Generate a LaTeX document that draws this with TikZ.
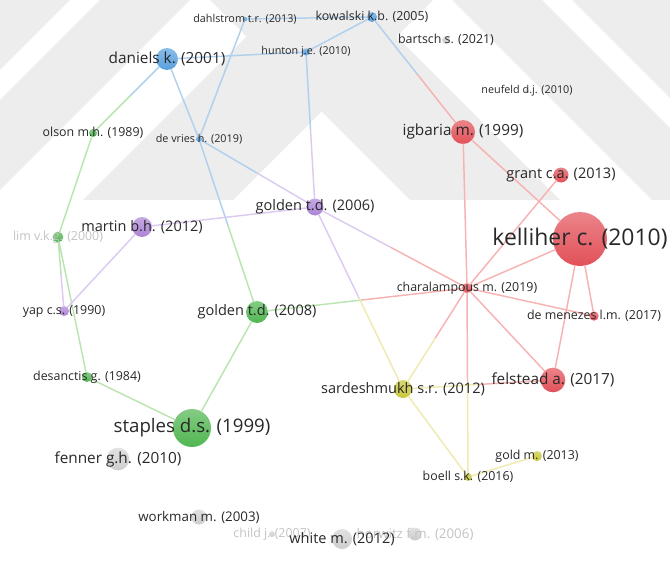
\documentclass[tikz,border=0pt]{standalone}
\usepackage{fontspec}
\setmainfont{Open Sans}
\usetikzlibrary{calc}
\definecolor{NetInk}{RGB}{40,40,40}
\definecolor{NetFaint}{RGB}{195,195,195}
\definecolor{NetMark}{RGB}{237,237,237}
\definecolor{RedNode}{RGB}{226,80,88}
\definecolor{BlueNode}{RGB}{88,160,222}
\definecolor{GreenNode}{RGB}{80,182,80}
\definecolor{PurpleNode}{RGB}{172,132,214}
\definecolor{YellowNode}{RGB}{200,200,60}
\definecolor{GrayNode}{RGB}{205,205,205}
\definecolor{RedLink}{RGB}{247,178,178}
\definecolor{BlueLink}{RGB}{176,208,238}
\definecolor{GreenLink}{RGB}{186,229,176}
\definecolor{PurpleLink}{RGB}{220,202,241}
\definecolor{YellowLink}{RGB}{239,234,176}
\tikzset{
    net/diagram/.style={
        x=0.75pt, y=-0.75pt,
        line cap=round,
        line join=round
    },
    net/mark/.style={fill=NetMark, draw=none},
    net/link/.style={line width=1.1pt},
    net/dot/.style={circle, draw=none, inner sep=0pt, outer sep=0pt},
    net/red/.style={net/dot, top color=RedNode!70!white, bottom color=RedNode},
    net/blue/.style={net/dot, top color=BlueNode!70!white, bottom color=BlueNode},
    net/green/.style={net/dot, top color=GreenNode!70!white, bottom color=GreenNode},
    net/purple/.style={net/dot, top color=PurpleNode!70!white, bottom color=PurpleNode},
    net/yellow/.style={net/dot, top color=YellowNode!70!white, bottom color=YellowNode},
    net/gray/.style={net/dot, top color=GrayNode!60!white, bottom color=GrayNode},
    net/label/.style={text=NetInk, inner sep=0pt, outer sep=0pt, anchor=center},
    net/faint/.style={text=NetFaint},
    net/t1/.style={font=\fontsize{17.2}{20}\selectfont},
    net/t2/.style={font=\fontsize{14}{17}\selectfont},
    net/t3/.style={font=\fontsize{11.5}{14}\selectfont},
    net/t4/.style={font=\fontsize{10.9}{13}\selectfont},
    net/t5/.style={font=\fontsize{10}{12}\selectfont},
    net/t6/.style={font=\fontsize{9.3}{11}\selectfont},
    net/t7/.style={font=\fontsize{8.1}{10}\selectfont}
}

\begin{document}
\begin{tikzpicture}[net/diagram]
    \useasboundingbox (0,0) rectangle (670,574);

    % watermark stripes behind the map
    \begin{scope}
        \clip (0,0) rectangle (670,200);
        \fill[net/mark] (0,0) -- (70,0) -- (0,70) -- cycle;
        \fill[net/mark] (100,0) -- (190,0) -- (0,190) -- (0,100) -- cycle;
        \fill[net/mark] (283,0) -- (433,0) -- (233,200) -- (83,200) -- cycle;
        \fill[net/mark] (210,0) -- (360,0) -- (560,200) -- (410,200) -- cycle;
        \fill[net/mark] (452,0) -- (542,0) -- (742,200) -- (652,200) -- cycle;
        \fill[net/mark] (572,0) -- (670,0) -- (670,98) -- cycle;
    \end{scope}

    % nodes (circles)
    \node[net/blue, minimum size=16.5pt] (daniels) at (167,59) {};
    \node[net/blue, minimum size=3.5pt] (dahlstrom) at (245,19) {};
    \node[net/blue, minimum size=7.5pt] (kowalski) at (372,17) {};
    \node[net/blue, minimum size=5.5pt] (hunton) at (306,52) {};
    \node[net/blue, minimum size=4.5pt] (devries) at (199,139) {};
    \node[net/gray, minimum size=6pt] (bartsch) at (446,40) {};
    \node[net/gray, minimum size=3pt] (neufeld) at (527,91) {};
    \node[net/green, minimum size=6pt] (olson) at (93,133) {};
    \node[net/green, minimum size=8pt] (lim) at (58,237) {};
    \node[net/green, minimum size=7.5pt] (desanctis) at (87,377) {};
    \node[net/green, minimum size=16.5pt] (golden08) at (257,312) {};
    \node[net/green, minimum size=28.5pt] (staples) at (192,428) {};
    \node[net/purple, minimum size=12.75pt] (golden06) at (315,207) {};
    \node[net/purple, minimum size=15pt] (martin) at (142,227) {};
    \node[net/purple, minimum size=7.5pt] (yap) at (64,311) {};
    \node[net/red, minimum size=18pt] (igbaria) at (463,132) {};
    \node[net/red, minimum size=11.25pt] (grant) at (561,175) {};
    \node[net/red, minimum size=40.5pt] (kelliher) at (580,239) {};
    \node[net/red, minimum size=7.5pt] (charalampous) at (467,288) {};
    \node[net/red, minimum size=7pt] (demenezes) at (594,316) {};
    \node[net/red, minimum size=18.5pt] (felstead) at (553,380) {};
    \node[net/yellow, minimum size=13.5pt] (sardeshmukh) at (403,389) {};
    \node[net/yellow, minimum size=7.5pt] (gold) at (537,456) {};
    \node[net/yellow, minimum size=6pt] (boell) at (468,477) {};
    \node[net/gray, minimum size=17pt] (fenner) at (118,459) {};
    \node[net/gray, minimum size=11.25pt] (workman) at (199,517) {};
    \node[net/gray, minimum size=4.5pt] (child) at (272,534) {};
    \node[net/gray, minimum size=15pt] (white) at (342,539) {};
    \node[net/gray, minimum size=9.75pt] (horwitz) at (415,534) {};

    % links, one colour per half
    \draw[net/link, draw=BlueLink]
        (daniels) -- (hunton) (daniels) -- (devries)
        (dahlstrom) -- (kowalski) (dahlstrom) -- (devries)
        (hunton) -- (kowalski)
        (daniels) -- ($(daniels)!.5!(olson)$)
        (devries) -- ($(devries)!.5!(golden08)$)
        (hunton) -- ($(hunton)!.5!(golden06)$)
        (devries) -- ($(devries)!.5!(golden06)$)
        (kowalski) -- ($(kowalski)!.5!(igbaria)$);
    \draw[net/link, draw=GreenLink]
        (olson) -- (lim) (lim) -- (desanctis)
        (desanctis) -- (staples) (staples) -- (golden08)
        (olson) -- ($(olson)!.5!(daniels)$)
        (golden08) -- ($(golden08)!.5!(devries)$)
        (lim) -- ($(lim)!.5!(yap)$)
        (golden08) -- ($(golden08)!.5!(charalampous)$);
    \draw[net/link, draw=PurpleLink]
        (martin) -- (golden06) (martin) -- (yap)
        (yap) -- ($(yap)!.5!(lim)$)
        (golden06) -- ($(golden06)!.5!(hunton)$)
        (golden06) -- ($(golden06)!.5!(devries)$)
        (golden06) -- ($(golden06)!.5!(charalampous)$)
        (golden06) -- ($(golden06)!.5!(sardeshmukh)$);
    \draw[net/link, draw=RedLink]
        (igbaria) -- (charalampous) (igbaria) -- (kelliher)
        (grant) -- (charalampous) (kelliher) -- (charalampous)
        (kelliher) -- (demenezes) (kelliher) -- (felstead)
        (charalampous) -- (demenezes) (charalampous) -- (felstead)
        (igbaria) -- ($(igbaria)!.5!(kowalski)$)
        (charalampous) -- ($(charalampous)!.5!(golden08)$)
        (charalampous) -- ($(charalampous)!.5!(golden06)$)
        (charalampous) -- ($(charalampous)!.5!(sardeshmukh)$)
        (charalampous) -- ($(charalampous)!.5!(boell)$)
        (felstead) -- ($(felstead)!.5!(sardeshmukh)$);
    \draw[net/link, draw=YellowLink]
        (sardeshmukh) -- (boell) (boell) -- (gold)
        (sardeshmukh) -- ($(sardeshmukh)!.5!(golden06)$)
        (sardeshmukh) -- ($(sardeshmukh)!.5!(charalampous)$)
        (boell) -- ($(boell)!.5!(charalampous)$)
        (sardeshmukh) -- ($(sardeshmukh)!.5!(felstead)$);

    % labels
    \node[net/label, net/t3] (daniels-t) at (daniels) {daniels k. (2001)};
    \node[net/label, net/t7] (dahlstrom-t) at (dahlstrom) {dahlstrom t.r. (2013)};
    \node[net/label, net/t6] (kowalski-t) at (kowalski) {kowalski k.b. (2005)};
    \node[net/label, net/t7] (hunton-t) at (hunton) {hunton j.e. (2010)};
    \node[net/label, net/t7] (devries-t) at (devries) {de vries h. (2019)};
    \node[net/label, net/t6] (bartsch-t) at (bartsch) {bartsch s. (2021)};
    \node[net/label, net/t7] (neufeld-t) at (neufeld) {neufeld d.j. (2010)};
    \node[net/label, net/t6] (olson-t) at (olson) {olson m.h. (1989)};
    \node[net/label, net/t6, net/faint] (lim-t) at (lim) {lim v.k.g. (2000)};
    \node[net/label, net/t6] (desanctis-t) at (desanctis) {desanctis g. (1984)};
    \node[net/label, net/t4] (golden08-t) at (golden08) {golden t.d. (2008)};
    \node[net/label, net/t2] (staples-t) at (staples) {staples d.s. (1999)};
    \node[net/label, net/t4] (golden06-t) at (golden06) {golden t.d. (2006)};
    \node[net/label, net/t4] (martin-t) at (martin) {martin b.h. (2012)};
    \node[net/label, net/t6] (yap-t) at (yap) {yap c.s. (1990)};
    \node[net/label, net/t3] (igbaria-t) at (igbaria) {igbaria m. (1999)};
    \node[net/label, net/t4] (grant-t) at (grant) {grant c.a. (2013)};
    \node[net/label, net/t1] (kelliher-t) at (kelliher) {kelliher c. (2010)};
    \node[net/label, net/t6] (charalampous-t) at (charalampous) {charalampous m. (2019)};
    \node[net/label, net/t6] (demenezes-t) at (demenezes) {de menezes l.m. (2017)};
    \node[net/label, net/t3] (felstead-t) at (felstead) {felstead a. (2017)};
    \node[net/label, net/t4] (sardeshmukh-t) at (sardeshmukh) {sardeshmukh s.r. (2012)};
    \node[net/label, net/t6] (gold-t) at (gold) {gold m. (2013)};
    \node[net/label, net/t6] (boell-t) at (boell) {boell s.k. (2016)};
    \node[net/label, net/t3] (fenner-t) at (fenner) {fenner g.h. (2010)};
    \node[net/label, net/t5] (workman-t) at (workman) {workman m. (2003)};
    \node[net/label, net/t6, net/faint] (child-t) at (child) {child j. (2007)};
    \node[net/label, net/t5, net/faint] (horwitz-t) at (horwitz) {horwitz f.m. (2006)};
    \node[net/label, net/t4] (white-t) at (white) {white m. (2012)};
\end{tikzpicture}
\end{document}
